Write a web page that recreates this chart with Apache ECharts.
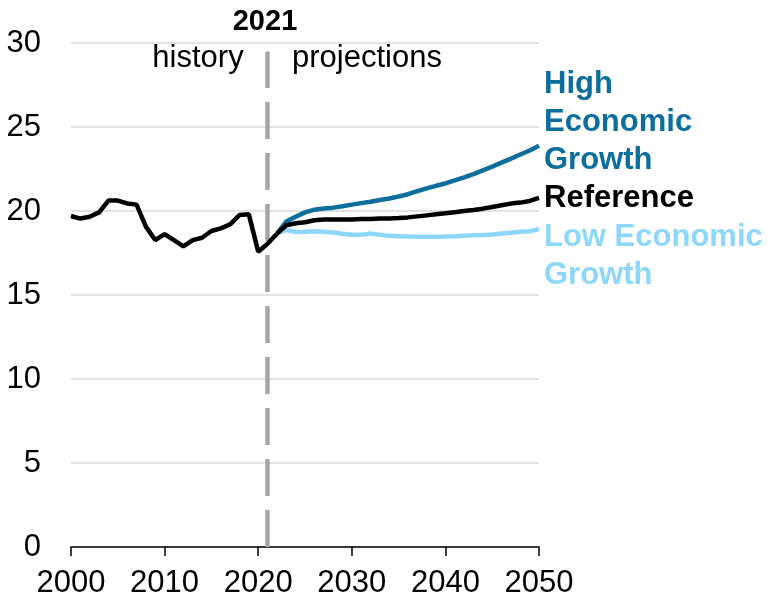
<!DOCTYPE html>
<html>
<head>
<meta charset="utf-8">
<script src="https://cdn.jsdelivr.net/npm/echarts@6/dist/echarts.min.js"></script>
<style>
html,body{margin:0;padding:0;background:#fff;}
#chart{width:772px;height:599px;}
</style>
</head>
<body>
<div id="chart"></div>
<script>
var historyYears = [2000,2001,2002,2003,2004,2005,2006,2007,2008,2009,2010,2011,2012,2013,2014,2015,2016,2017,2018,2019,2020,2021,2022];
var historyValues = [19.70,19.55,19.66,19.92,20.62,20.62,20.45,20.38,19.07,18.27,18.63,18.27,17.90,18.27,18.41,18.81,18.97,19.20,19.76,19.80,17.58,18.05,18.65];

var projYears = [2022,2023,2024,2025,2026,2027,2028,2029,2030,2031,2032,2033,2034,2035,2036,2037,2038,2039,2040,2041,2042,2043,2044,2045,2046,2047,2048,2049,2050];
var referenceValues = [18.65,19.15,19.27,19.33,19.45,19.50,19.50,19.50,19.50,19.52,19.53,19.55,19.56,19.58,19.62,19.68,19.74,19.80,19.86,19.93,20.00,20.06,20.14,20.24,20.34,20.44,20.50,20.60,20.78];
var highValues = [18.65,19.37,19.66,19.92,20.08,20.15,20.20,20.28,20.38,20.47,20.55,20.65,20.74,20.86,21.00,21.18,21.35,21.50,21.64,21.82,22.00,22.20,22.42,22.64,22.88,23.12,23.36,23.60,23.88];
var lowValues = [18.65,18.87,18.75,18.77,18.80,18.77,18.72,18.64,18.58,18.58,18.66,18.58,18.52,18.50,18.48,18.47,18.47,18.47,18.48,18.50,18.53,18.56,18.57,18.60,18.66,18.70,18.76,18.80,18.93];

var dividerYear = 2021;
var xTicks = [2000,2010,2020,2030,2040,2050];
var yTicks = [0,5,10,15,20,25,30];

function pairs(xs, ys){ return xs.map(function(x,i){ return [x, ys[i]]; }); }

var FONT = '"Liberation Sans", Arial, sans-serif';
var cHigh = '#0b6e9c';
var cLow = '#8cd7fb';
var cRef = '#000000';

var chart = echarts.init(document.getElementById('chart'));
chart.setOption({
  backgroundColor: '#ffffff',
  animation: false,
  grid: {left: 71, right: 233, top: 43, bottom: 52, containLabel: false},
  xAxis: {
    type: 'value', min: xTicks[0], max: xTicks[xTicks.length-1], interval: 10,
    axisLine: {show: true, lineStyle: {color: '#000', width: 1.5}},
    axisTick: {show: true, length: 9, inside: false, lineStyle: {color: '#000', width: 1.5}},
    axisLabel: {color: '#000', fontSize: 31, fontFamily: FONT, margin: 21, formatter: function(v){ return String(v); }},
    splitLine: {show: false}
  },
  yAxis: {
    type: 'value', min: yTicks[0], max: yTicks[yTicks.length-1], interval: 5,
    axisLine: {show: false},
    axisTick: {show: false},
    axisLabel: {color: '#000', fontSize: 31, fontFamily: FONT, margin: 30},
    splitLine: {show: true, lineStyle: {color: '#d9d9d9', width: 1.5}}
  },
  series: [
    {
      name: 'Low Economic Growth', type: 'line', data: pairs(projYears, lowValues),
      showSymbol: false, symbol: 'none', lineStyle: {color: cLow, width: 4.5}, z: 3
    },
    {
      name: 'High Economic Growth', type: 'line', data: pairs(projYears, highValues),
      showSymbol: false, symbol: 'none', lineStyle: {color: cHigh, width: 4.5}, z: 4
    },
    {
      name: 'Reference', type: 'line', data: pairs(projYears, referenceValues),
      showSymbol: false, symbol: 'none', lineStyle: {color: cRef, width: 4.5}, z: 5
    },
    {
      name: 'History', type: 'line', data: pairs(historyYears, historyValues),
      showSymbol: false, symbol: 'none', lineStyle: {color: cRef, width: 4.5}, z: 5,
      markLine: {
        silent: true, symbol: ['none','none'], label: {show: false},
        lineStyle: {color: '#a6a6a6', width: 4.5, type: [37,14]},
        data: [[{coord: [dividerYear, 0]}, {coord: [dividerYear, 29.5]}]],
        z: 2
      }
    }
  ],
  graphic: [
    {type: 'text', x: 265, y: 22, style: {text: '2021', font: 'bold 29px ' + FONT, fill: '#000', textAlign: 'center', textVerticalAlign: 'middle'}},
    {type: 'text', x: 198, y: 58, style: {text: 'history', font: '31px ' + FONT, fill: '#000', textAlign: 'center', textVerticalAlign: 'middle'}},
    {type: 'text', x: 367, y: 58, style: {text: 'projections', font: '31px ' + FONT, fill: '#000', textAlign: 'center', textVerticalAlign: 'middle'}},
    {type: 'text', x: 544, y: 122, style: {text: 'High\nEconomic\nGrowth', font: 'bold 31px ' + FONT, lineHeight: 38, fill: cHigh, textAlign: 'left', textVerticalAlign: 'middle'}},
    {type: 'text', x: 544, y: 198, style: {text: 'Reference', font: 'bold 31px ' + FONT, fill: cRef, textAlign: 'left', textVerticalAlign: 'middle'}},
    {type: 'text', x: 544, y: 256, style: {text: 'Low Economic\nGrowth', font: 'bold 31px ' + FONT, lineHeight: 38, fill: cLow, textAlign: 'left', textVerticalAlign: 'middle'}}
  ]
});
</script>
</body>
</html>
